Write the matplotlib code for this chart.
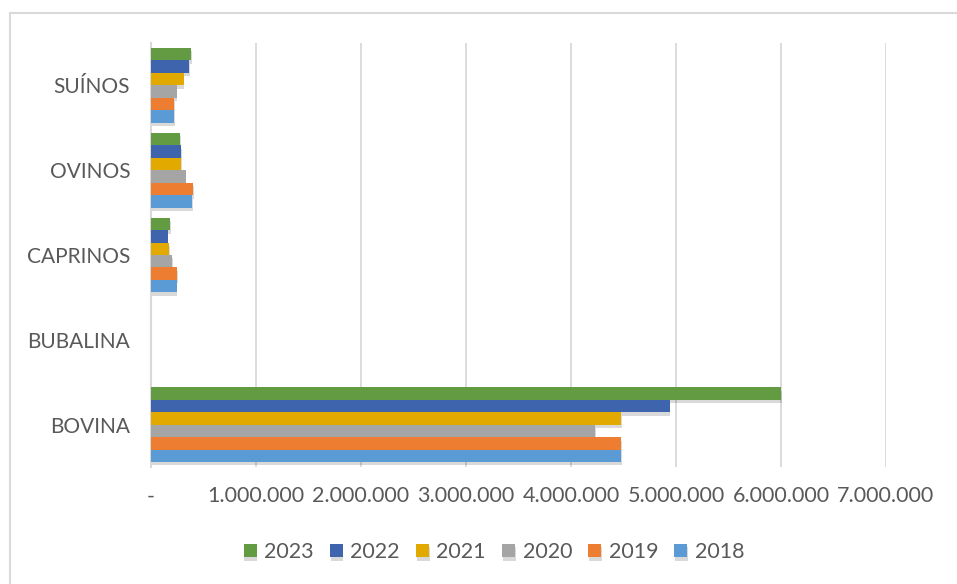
import numpy as np
import matplotlib
matplotlib.use('Agg')
from matplotlib import pyplot as plt
from matplotlib import patheffects as pe
from matplotlib.patches import Rectangle

# Rebanho por espécie (cabeças)
categories = ['BOVINA', 'BUBALINA', 'CAPRINOS', 'OVINOS', 'SUÍNOS']
years = ['2018', '2019', '2020', '2021', '2022', '2023']
values = {
    '2018': [4480000, 3000, 245000, 390000, 220000],
    '2019': [4480000, 3000, 250000, 400000, 220000],
    '2020': [4230000, 3000, 200000, 330000, 245000],
    '2021': [4480000, 3000, 170000, 290000, 310000],
    '2022': [4940000, 3000, 160000, 290000, 365000],
    '2023': [6000000, 3000, 180000, 280000, 380000],
}
colors = {
    '2018': '#5B9BD5',
    '2019': '#ED7D31',
    '2020': '#A5A5A5',
    '2021': '#E2AA00',
    '2022': '#3E64AE',
    '2023': '#629B41',
}
xticks = [0, 1000000, 2000000, 3000000, 4000000, 5000000, 6000000, 7000000]

text_color = '#595959'
plt.rcParams['font.family'] = ['Lato', 'DejaVu Sans']

fig = plt.figure(figsize=(9.57, 5.84), dpi=100)

# outer chart frame
fig.patches.append(Rectangle((10 / 957, -0.1), 1.1, (584 - 13) / 584 + 0.1,
                             transform=fig.transFigure, fill=False,
                             edgecolor='#D9D9D9', linewidth=1.5))

ax = fig.add_axes([151 / 957, 117 / 584, 735 / 957, 424 / 584])

y = np.arange(len(categories))
h = 0.147
shadow = [pe.SimplePatchShadow(offset=(0.5, -2.5), shadow_rgbFace='#000000', alpha=0.15),
          pe.Normal()]

# draw top series first so lower bars cover shadows from above
for i, yr in reversed(list(enumerate(years))):
    ax.barh(y + (i - 2.5) * h, values[yr], height=h, color=colors[yr],
            label=yr, zorder=3, path_effects=shadow)

ax.set_xlim(0, 7000000)
ax.set_ylim(-0.5, len(categories) - 0.5)
ax.set_xticks(xticks)
ax.set_xticklabels(['-'] + [f'{v:,}'.replace(',', '.') for v in xticks[1:]])
ax.set_yticks(y)
ax.set_yticklabels(categories)
ax.tick_params(axis='x', length=0, pad=14, labelsize=15.5, colors=text_color)
ax.tick_params(axis='y', length=0, pad=15, labelsize=15, colors=text_color)
ax.xaxis.grid(True, color='#D9D9D9', linewidth=1.3, zorder=0)
ax.set_axisbelow(True)
for side in ['top', 'right', 'bottom']:
    ax.spines[side].set_visible(False)
ax.spines['left'].set_color('#D9D9D9')
ax.spines['left'].set_linewidth(1.5)

handles, labels = ax.get_legend_handles_labels()
leg = fig.legend(handles, labels, loc='center', bbox_to_anchor=(494 / 957, 1 - 552 / 584),
                 ncol=6, frameon=False, fontsize=15.5, handlelength=0.6,
                 handleheight=0.6, handletextpad=0.35, columnspacing=0.75)
for t in leg.get_texts():
    t.set_color(text_color)

fig.savefig('out.png', dpi=100, facecolor='white')
